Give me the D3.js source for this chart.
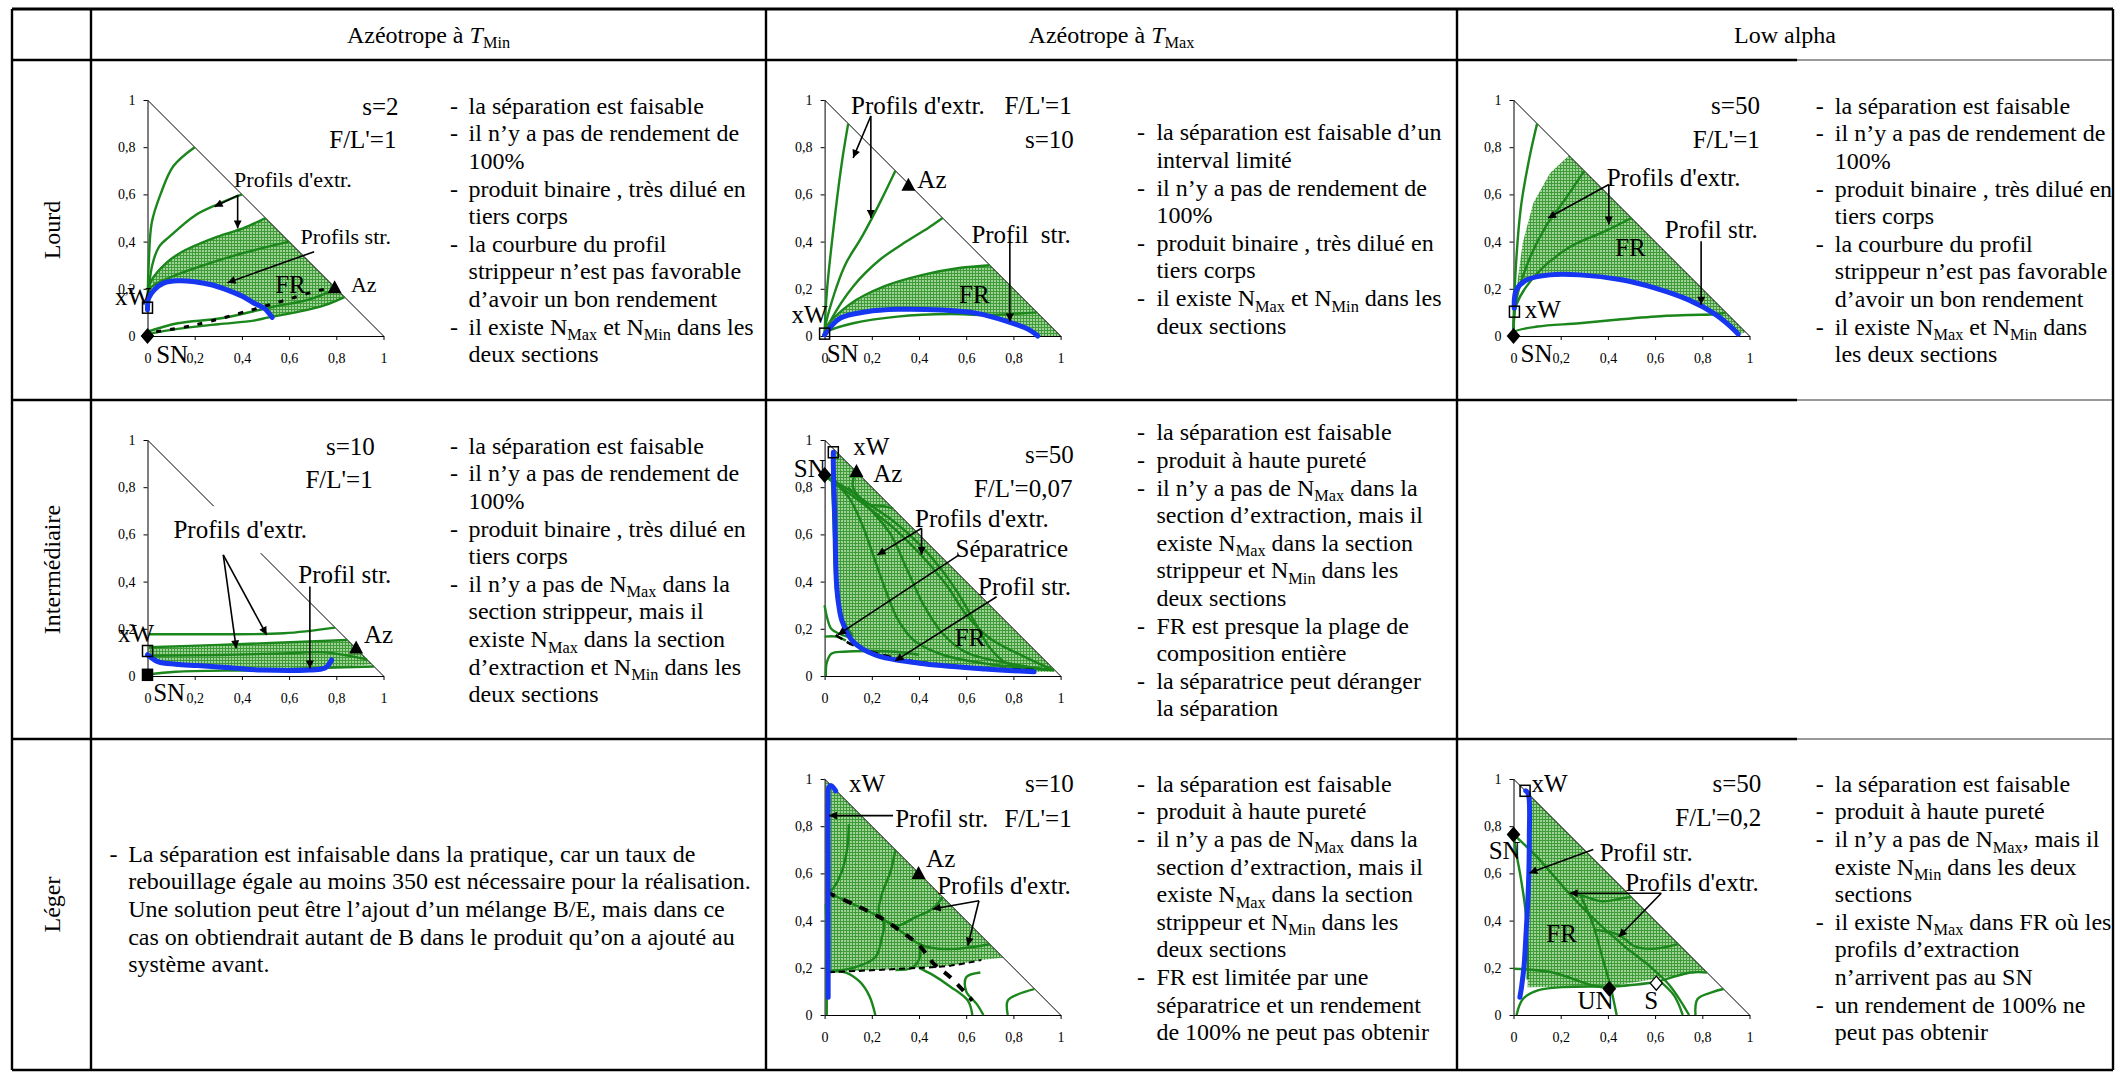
<!DOCTYPE html>
<html><head><meta charset="utf-8">
<script src="https://cdn.jsdelivr.net/npm/d3@7"></script>
<style>body{margin:0;background:#fff}svg{display:block}text{font-family:"Liberation Serif","Times New Roman",serif;fill:#000}</style>
</head><body><svg id="c" width="2116" height="1073"></svg>
<script>
// ---------------- DATA ----------------
const columnHeaders = ["Azéotrope à *T*_{Min}", "Azéotrope à *T*_{Max}", "Low alpha"];
const rowHeaders = ["Lourd", "Intermédiaire", "Léger"];
const tickValues = [0, 0.2, 0.4, 0.6, 0.8, 1];
const tickLabels = ["0", "0,2", "0,4", "0,6", "0,8", "1"];
const hypotenuse = [[0, 1], [1, 0]];

// Lourd / T_Min
const p11Green = [
  [[0,0.13],[0.005,0.3],[0.018,0.48],[0.055,0.6],[0.11,0.72],[0.2,0.8]],
  [[0,0.14],[0.02,0.3],[0.05,0.38],[0.092,0.42],[0.2,0.51],[0.29,0.555],[0.4,0.6]],
  [[0,0.16],[0.018,0.237],[0.08,0.31],[0.147,0.357],[0.294,0.42],[0.404,0.456],[0.5,0.5]],
  [[0,0.17],[0.018,0.209],[0.1,0.25],[0.22,0.294],[0.4,0.35],[0.6,0.4]],
  [[0,0.008],[0.128,0.03],[0.3,0.05],[0.45,0.065],[0.514,0.079],[0.642,0.103],[0.752,0.131],[0.835,0.165]],
  [[0,0.018],[0.128,0.054],[0.312,0.075],[0.532,0.124],[0.679,0.153],[0.8,0.2]]
];
const p11Blue = [[0,0.11],[0.005,0.16],[0.028,0.195],[0.07,0.225],[0.128,0.234],[0.2,0.23],[0.275,0.216],[0.35,0.19],[0.404,0.167],[0.45,0.14],[0.495,0.117],[0.528,0.079]];
const p11Dash = [[[0.037,0.018],[0.202,0.047],[0.44,0.11],[0.587,0.153],[0.734,0.195],[0.793,0.202]]];
const p11FR = [[0.018,0.237],[0.08,0.31],[0.147,0.357],[0.294,0.42],[0.404,0.456],[0.5,0.5],[0.835,0.165],[0.752,0.131],[0.642,0.103],[0.514,0.079],[0.528,0.079],[0.495,0.117],[0.45,0.14],[0.404,0.167],[0.35,0.19],[0.275,0.216],[0.2,0.23],[0.128,0.234],[0.07,0.225],[0.028,0.195]];
const p11Marks = [["square",0,0.12],["diamond",0,0],["triangle",0.793,0.202]];
const p11Labels = [["s=2",1.064,0.972,"end",25],["F/L'=1",1.055,0.83,"end",25],["Profils d'extr.",0.367,0.661,"start",22],["Profils str.",0.648,0.421,"start",22],["FR",0.541,0.216,"start",25],["Az",0.862,0.216,"start",22],["xW",0.015,0.167,"end",25],["SN",0.037,-0.08,"start",25]];
const p11Arrows = [[[0.385,0.597],[0.284,0.548]],[[0.382,0.597],[0.382,0.456]],[[0.706,0.357],[0.339,0.226]]];

// Lourd / T_Max
const p12Green = [
  [[0,0.01],[0.009,0.181],[0.047,0.535],[0.075,0.748],[0.1,0.9]],
  [[0,0.01],[0.009,0.068],[0.084,0.295],[0.159,0.422],[0.234,0.564],[0.3,0.7]],
  [[0,0.01],[0.019,0.054],[0.121,0.21],[0.234,0.323],[0.346,0.4],[0.439,0.458],[0.5,0.5]],
  [[0,0.01],[0.009,0.04],[0.103,0.132],[0.252,0.21],[0.42,0.26],[0.57,0.288],[0.7,0.3]],
  [[0,0.01],[0.009,0.018],[0.121,0.054],[0.308,0.082],[0.533,0.093],[0.682,0.089],[0.9,0.1]]
];
const p12Blue = [[0,0.005],[0.065,0.075],[0.178,0.103],[0.308,0.113],[0.495,0.11],[0.645,0.096],[0.776,0.061],[0.869,0.025],[0.903,0]];
const p12Dash = [];
const p12FR = [[0.009,0.04],[0.103,0.132],[0.252,0.21],[0.42,0.26],[0.57,0.288],[0.7,0.3],[1,0],[0.903,0],[0.869,0.025],[0.776,0.061],[0.645,0.096],[0.495,0.11],[0.308,0.113],[0.178,0.103],[0.065,0.075],[0,0.005]];
const p12Marks = [["square",0,0.01],["triangle",0.355,0.637]];
const p12Labels = [["Profils d'extr.",0.112,0.975,"start",25],["F/L'=1",1.047,0.975,"end",25],["s=10",1.056,0.833,"end",25],["Az",0.393,0.663,"start",25],["Profil\u00A0 str.",0.622,0.429,"start",25],["FR",0.57,0.174,"start",25],["xW",0.013,0.089,"end",25],["SN",0.009,-0.074,"start",25]];
const p12Arrows = [[[0.196,0.932],[0.121,0.755]],[[0.196,0.932],[0.196,0.5]],[[0.785,0.401],[0.785,0.061]]];

// Lourd / Low alpha
const p13Green = [
  [[0,0.01],[0.004,0.181],[0.03,0.535],[0.066,0.748],[0.1,0.9]],
  [[0,0.02],[0.012,0.153],[0.066,0.323],[0.137,0.465],[0.208,0.564],[0.3,0.7]],
  [[0,0.02],[0.012,0.132],[0.101,0.266],[0.244,0.38],[0.386,0.443],[0.5,0.5]],
  [[0,0.005],[0.004,0.018],[0.101,0.04],[0.279,0.054],[0.457,0.071],[0.635,0.085],[0.742,0.089],[0.87,0.093],[0.9,0.1]]
];
const p13Blue = [[0.003,0.118],[0.012,0.195],[0.057,0.238],[0.155,0.259],[0.279,0.259],[0.457,0.238],[0.6,0.203],[0.742,0.153],[0.849,0.096],[0.92,0.04],[0.952,0.008]];
const p13Dash = [];
const p13FR = [[0.012,0.195],[0.039,0.394],[0.084,0.564],[0.155,0.691],[0.235,0.765],[0.985,0.015],[0.952,0.008],[0.92,0.04],[0.849,0.096],[0.742,0.153],[0.6,0.203],[0.457,0.238],[0.279,0.259],[0.155,0.259],[0.057,0.238]];
const p13Marks = [["square",0.004,0.103],["diamond",0,0]];
const p13Labels = [["s=50",1.044,0.975,"end",25],["F/L'=1",1.044,0.833,"end",25],["Profils d'extr.",0.395,0.67,"start",25],["Profil str.",0.641,0.45,"start",25],["FR",0.431,0.373,"start",25],["xW",0.048,0.11,"start",25],["SN",0.03,-0.074,"start",25]];
const p13Arrows = [[[0.404,0.642],[0.146,0.5]],[[0.404,0.642],[0.404,0.472]],[[0.795,0.401],[0.795,0.132]]];

// Intermédiaire / T_Min
const p21Green = [
  [[0.005,0.177],[0.303,0.177],[0.578,0.181],[0.795,0.205]],
  [[0.005,0.122],[0.303,0.132],[0.578,0.142],[0.847,0.153]],
  [[0.005,0.086],[0.303,0.089],[0.578,0.096],[0.75,0.1],[0.93,0.07]],
  [[0.005,0.007],[0.12,0.018],[0.486,0.025],[0.761,0.035],[0.96,0.04]]
];
const p21Blue = [[0,0.09],[0.046,0.06],[0.12,0.05],[0.211,0.044],[0.35,0.035],[0.486,0.025],[0.688,0.025],[0.74,0.03],[0.761,0.04],[0.78,0.068]];
const p21Dash = [];
const p21FR = [[0.005,0.122],[0.303,0.132],[0.578,0.142],[0.847,0.153],[0.95,0.05],[0.69,0.028],[0.49,0.028],[0.211,0.046],[0.046,0.063],[0.005,0.09]];
const p21Marks = [["square",0,0.106],["fsquare",0,0.005],["triangle",0.884,0.117]];
const p21Labels = [["s=10",0.963,0.972,"end",25],["F/L'=1",0.954,0.83,"end",25],["Profils d'extr.",0.11,0.619,"start",25,true],["Profil str.",0.639,0.428,"start",25],["Az",0.917,0.174,"start",25],["xW",0.028,0.181,"end",25],["SN",0.024,-0.073,"start",25]];
const p21Arrows = [[[0.321,0.513],[0.376,0.117]],[[0.321,0.513],[0.505,0.174]],[[0.688,0.379],[0.688,0.032]]];

// Intermédiaire / T_Max
const p22Green = [
  [[0,0.852],[0.1,0.79],[0.2,0.72],[0.3,0.65],[0.4,0.56],[0.48,0.47],[0.56,0.36],[0.63,0.24],[0.7,0.12],[0.78,0.05],[0.97,0.025]],
  [[0.02,0.84],[0.1,0.76],[0.16,0.64],[0.21,0.5],[0.26,0.36],[0.31,0.24],[0.38,0.15],[0.5,0.09],[0.7,0.05],[0.97,0.025]],
  [[0.13,0.86],[0.12,0.8],[0.2,0.7],[0.28,0.6],[0.35,0.45],[0.42,0.3],[0.5,0.18],[0.6,0.1],[0.8,0.05],[0.97,0.025]],
  [[0.01,0.84],[0.15,0.74],[0.3,0.62],[0.42,0.5],[0.52,0.38],[0.6,0.26],[0.7,0.16],[0.85,0.08],[0.97,0.025]],
  [[0.1,0.8],[0.18,0.73],[0.25,0.72],[0.29,0.71]],
  [[0.03,0.85],[0.04,0.6],[0.05,0.35],[0.07,0.25],[0.12,0.17]],
  [[0,0.3],[0.01,0.25],[0.028,0.2],[0.06,0.18],[0.1,0.165]],
  [[0,0.167],[0.05,0.167],[0.09,0.15]],
  [[0.005,0],[0.01,0.06],[0.03,0.095],[0.08,0.103],[0.3,0.103],[0.4,0.09]]
];
const p22Blue = [[0.037,0.948],[0.037,0.894],[0.043,0.682],[0.05,0.4],[0.06,0.3],[0.075,0.23],[0.121,0.145],[0.215,0.089],[0.402,0.054],[0.682,0.03],[0.888,0.018]];
const p22Dash = [[[0.047,0.174],[0.121,0.131],[0.308,0.075],[0.589,0.04],[0.888,0.025]]];
const p22FR = [[0.037,0.963],[0.975,0.025],[0.975,0.018],[0.888,0.018],[0.682,0.03],[0.402,0.054],[0.215,0.089],[0.121,0.145],[0.075,0.23],[0.06,0.3],[0.05,0.4],[0.043,0.682],[0.037,0.894]];
const p22Marks = [["square",0.037,0.948],["diamond",0,0.852],["triangle",0.135,0.864]];
const p22Labels = [["xW",0.121,0.972,"start",25],["SN",0.005,0.88,"end",25],["Az",0.206,0.859,"start",25],["s=50",1.056,0.939,"end",25],["F/L'=0,07",1.05,0.795,"end",25],["Profils d'extr.",0.383,0.668,"start",25],["Séparatrice",0.555,0.541,"start",25],["Profil str.",0.65,0.379,"start",25],["FR",0.551,0.16,"start",25]];
const p22Arrows = [[[0.411,0.626],[0.224,0.513]],[[0.411,0.626],[0.411,0.513]],[[0.57,0.513],[0.056,0.174]],[[0.729,0.336],[0.299,0.064]]];

// Léger / T_Max
const p32Green = [
  [[0.009,0.52],[0.121,0.47],[0.234,0.414],[0.33,0.35],[0.402,0.3],[0.45,0.285],[0.55,0.28],[0.7,0.3]],
  [[0.103,0.808],[0.095,0.7],[0.07,0.6],[0.03,0.53],[0.009,0.52]],
  [[0.3,0.7],[0.28,0.61],[0.243,0.513],[0.23,0.44],[0.252,0.386],[0.243,0.33],[0.215,0.245],[0.121,0.2],[0.019,0.185]],
  [[0.5,0.5],[0.458,0.45],[0.383,0.414],[0.308,0.379],[0.234,0.414]],
  [[0.402,0.3],[0.402,0.24],[0.37,0.2],[0.3,0.19]],
  [[0.019,0.185],[0.09,0.18],[0.15,0.14],[0.19,0.08],[0.215,0]],
  [[0.4,0.2],[0.458,0.17],[0.533,0.12],[0.607,0.061],[0.626,0]],
  [[0.66,0.18],[0.6,0.16],[0.6,0.1],[0.645,0.046],[0.673,0]],
  [[0.776,0],[0.776,0.061],[0.822,0.089],[0.888,0.11]],
  [[0.005,0.47],[0.009,0.33],[0.009,0]]
];
const p32Blue = [[0.015,0.075],[0.015,0.3],[0.015,0.6],[0.015,0.9],[0.018,0.965],[0.028,0.972],[0.047,0.95]];
const p32Dash = [[[0.009,0.52],[0.121,0.47],[0.234,0.414],[0.33,0.35],[0.402,0.294],[0.46,0.22],[0.533,0.16],[0.626,0.061]],[[0.019,0.181],[0.308,0.195],[0.533,0.209],[0.664,0.233]]];
const p32FR = [[0.005,0.995],[0.757,0.243],[0.664,0.233],[0.533,0.209],[0.308,0.195],[0.019,0.181],[0.005,0.181]];
const p32Marks = [["triangle",0.398,0.597]];
const p32Labels = [["xW",0.103,0.979,"start",25],["s=10",1.056,0.979,"end",25],["Profil str.",0.299,0.83,"start",25],["F/L'=1",1.047,0.83,"end",25],["Az",0.43,0.661,"start",25],["Profils d'extr.",0.477,0.548,"start",25]];
const p32Arrows = [[[0.29,0.845],[0.019,0.845]],[[0.654,0.484],[0.458,0.449]],[[0.654,0.484],[0.607,0.294]]];

// Léger / Low alpha
const p33Green = [
  [[0,0.765],[0.103,0.666],[0.229,0.523],[0.338,0.41],[0.464,0.296],[0.572,0.211],[0.662,0.125],[0.744,0]],
  [[0,0.765],[0.013,0.68],[0.031,0.58],[0.05,0.45],[0.06,0.3],[0.06,0.15]],
  [[0.247,0.52],[0.283,0.509],[0.374,0.482],[0.464,0.495],[0.5,0.5]],
  [[0.35,0.36],[0.446,0.339],[0.518,0.289],[0.608,0.282],[0.699,0.301]],
  [[0.283,0.509],[0.338,0.381],[0.374,0.253],[0.41,0.125],[0.437,0]],
  [[0,0.196],[0.157,0.182],[0.338,0.125],[0.41,0.114]],
  [[0.013,0],[0.04,0.068],[0.103,0.104],[0.211,0.118],[0.41,0.12]],
  [[0.608,0.154],[0.68,0.083],[0.717,0]],
  [[0.771,0],[0.78,0.068],[0.843,0.097],[0.89,0.11]],
  [[0.41,0.12],[0.6,0.14],[0.75,0.18],[0.82,0.18]]
];
const p33Blue = [[0.052,0.95],[0.063,0.936],[0.067,0.751],[0.063,0.538],[0.052,0.324],[0.045,0.211],[0.034,0.118],[0.027,0.075]];
const p33Dash = [];
const p33FR = [[0.065,0.935],[0.816,0.184],[0.72,0.17],[0.608,0.154],[0.41,0.122],[0.06,0.118],[0.063,0.4],[0.067,0.75]];
const p33Marks = [["square",0.049,0.95],["diamond",0,0.765],["diamond",0.406,0.111],["odiamond",0.605,0.135]];
const p33Labels = [["xW",0.076,0.979,"start",25],["s=50",1.05,0.979,"end",25],["F/L'=0,2",1.05,0.836,"end",25],["SN",-0.105,0.694,"start",25],["Profil str.",0.365,0.687,"start",25],["Profils d'extr.",0.473,0.559,"start",25],["FR",0.139,0.346,"start",25],["UN",0.271,0.061,"start",25],["S",0.554,0.061,"start",25]];
const p33Arrows = [[[0.338,0.701],[0.067,0.602]],[[0.626,0.516],[0.238,0.516]],[[0.626,0.516],[0.446,0.331]]];

// cell texts
const text11 = [["la séparation est faisable"],["il n’y a pas de rendement de","100%"],["produit binaire , très dilué en","tiers corps"],["la courbure du profil","strippeur n’est pas favorable","d’avoir un bon rendement"],["il existe N_{Max} et N_{Min} dans les","deux sections"]];
const text12 = [["la séparation est faisable d’un","interval limité"],["il n’y a pas de rendement de","100%"],["produit binaire , très dilué en","tiers corps"],["il existe N_{Max} et N_{Min} dans les","deux sections"]];
const text13 = [["la séparation est faisable"],["il n’y a pas de rendement de","100%"],["produit binaire , très dilué en","tiers corps"],["la courbure du profil","strippeur n’est pas favorable","d’avoir un bon rendement"],["il existe N_{Max} et N_{Min} dans","les deux sections"]];
const text21 = [["la séparation est faisable"],["il n’y a pas de rendement de","100%"],["produit binaire , très dilué en","tiers corps"],["il n’y a pas de N_{Max} dans la","section strippeur, mais il","existe N_{Max} dans la section","d’extraction et N_{Min} dans les","deux sections"]];
const text22 = [["la séparation est faisable"],["produit à haute pureté"],["il n’y a pas de N_{Max} dans la","section d’extraction, mais il","existe N_{Max} dans la section","strippeur et N_{Min} dans les","deux sections"],["FR est presque la plage de","composition entière"],["la séparatrice peut déranger","la séparation"]];
const text31 = [["La séparation est infaisable dans la pratique, car un taux de","rebouillage égale au moins 350 est nécessaire pour la réalisation.","Une solution peut être l’ajout d’un mélange B/E, mais dans ce","cas on obtiendrait autant de B dans le produit qu’on a ajouté au","système avant."]];
const text32 = [["la séparation est faisable"],["produit à haute pureté"],["il n’y a pas de N_{Max} dans la","section d’extraction, mais il","existe N_{Max} dans la section","strippeur et N_{Min} dans les","deux sections"],["FR est limitée par une","séparatrice et un rendement","de 100% ne peut pas obtenir"]];
const text33 = [["la séparation est faisable"],["produit à haute pureté"],["il n’y a pas de N_{Max}, mais il","existe N_{Min} dans les deux","sections"],["il existe N_{Max} dans FR où les","profils d’extraction","n’arrivent pas au SN"],["un rendement de 100% ne","peut pas obtenir"]];

// ---------------- LAYOUT ----------------
const W = 2116, H = 1073, PS = 236;
const tL = 12, tR = 2113, tT = 9, hB = 60, rowB = [400, 739, 1070], colX = [91, 766, 1457], grayFrom = 1797;
const GREEN = "#1b861b", BLUE = "#1636f2";

const svg = d3.select("#c");
svg.append("rect").attr("width", W).attr("height", H).attr("fill", "#fff");
const defs = svg.append("defs");
const pat = defs.append("pattern").attr("id", "frgrid").attr("width", 3).attr("height", 3).attr("patternUnits", "userSpaceOnUse");
pat.append("rect").attr("width", 3).attr("height", 3).attr("fill", "#9fd296");
pat.append("path").attr("d", "M0,0.5H3M0.5,0V3").attr("stroke", "#3f9a38").attr("stroke-width", 1);
defs.append("marker").attr("id", "arr").attr("viewBox", "0 0 10 10").attr("refX", 10).attr("refY", 5)
  .attr("markerWidth", 11).attr("markerHeight", 8).attr("markerUnits", "userSpaceOnUse").attr("orient", "auto")
  .append("path").attr("d", "M0,0L10,5L0,10z").attr("fill", "#000");

function rich(sel, str, size) {
  const re = /(\*[^*]+\*)|(_\{[^}]*\})/g;
  let last = 0, m, back = 0;
  const plain = s => { const t = sel.append("tspan").text(s); if (back) { t.attr("dy", -back); back = 0; } return t; };
  while ((m = re.exec(str))) {
    if (m.index > last) plain(str.slice(last, m.index));
    if (m[1]) { plain(m[1].slice(1, -1)).attr("font-style", "italic"); }
    else { const sh = size * 0.24; sel.append("tspan").attr("font-size", size * 0.68).attr("dy", sh - back).text(m[2].slice(2, -1)); back = sh; }
    last = re.lastIndex;
  }
  if (last < str.length) plain(str.slice(last));
}

// table lines
const tg = svg.append("g").attr("stroke", "#000").attr("fill", "none");
tg.append("line").attr("x1", tL).attr("x2", tR).attr("y1", tT).attr("y2", tT).attr("stroke-width", 3);
[hB, rowB[0], rowB[1]].forEach(yv => {
  tg.append("line").attr("x1", tL).attr("x2", grayFrom).attr("y1", yv).attr("y2", yv).attr("stroke-width", 2.6);
  tg.append("line").attr("x1", grayFrom).attr("x2", tR).attr("y1", yv).attr("y2", yv).attr("stroke-width", 1.6).attr("stroke", "#777");
});
tg.append("line").attr("x1", tL).attr("x2", tR).attr("y1", rowB[2]).attr("y2", rowB[2]).attr("stroke-width", 2.6);
[tL, tR].concat(colX).forEach(xv => tg.append("line").attr("x1", xv).attr("x2", xv).attr("y1", tT).attr("y2", rowB[2]).attr("stroke-width", 2.4));

// headers
const headCenters = [(colX[0] + colX[1]) / 2, (colX[1] + colX[2]) / 2, (colX[2] + tR) / 2];
columnHeaders.forEach((h, i) => {
  const t = svg.append("text").attr("x", headCenters[i]).attr("y", (tT + hB) / 2 + 8).attr("text-anchor", "middle").attr("font-size", 24);
  rich(t, h, 24);
});
const rowTops = [hB, rowB[0], rowB[1]];
rowHeaders.forEach((h, i) => {
  const cy = (rowTops[i] + rowB[i]) / 2, cx = (tL + colX[0]) / 2 + 8;
  svg.append("text").attr("transform", `translate(${cx},${cy}) rotate(-90)`).attr("text-anchor", "middle").attr("font-size", 24).text(h);
});

// cell texts
const LH = 27.6;
function drawCellText(data, dashX, textX, firstCenter) {
  let k = 0;
  data.forEach(bullet => {
    bullet.forEach((ln, j) => {
      const yb = firstCenter + k * LH + 7;
      if (j === 0) svg.append("text").attr("x", dashX).attr("y", yb).attr("font-size", 24).text("-");
      const t = svg.append("text").attr("x", textX).attr("y", yb).attr("font-size", 24);
      rich(t, ln, 24);
      k++;
    });
  });
}
drawCellText(text11, 450, 468.6, 106.7);
drawCellText(text12, 1137, 1156.4, 133.3);
drawCellText(text13, 1815.8, 1834.8, 106.7);
drawCellText(text21, 450, 468.6, 446.7);
drawCellText(text22, 1137, 1156.4, 433.3);
drawCellText(text31, 109.5, 128.2, 854.7);
drawCellText(text32, 1137, 1156.4, 784.7);
drawCellText(text33, 1815.8, 1834.8, 784.7);

// plots
function drawPlot(ox, oy, green, blue, dash, fr, marks, labels, arrows, dashStyle) {
  const g = svg.append("g");
  const x = d3.scaleLinear().domain([0, 1]).range([ox, ox + PS]);
  const y = d3.scaleLinear().domain([0, 1]).range([oy, oy - PS]);
  const smooth = d3.line().x(d => x(d[0])).y(d => y(d[1])).curve(d3.curveCatmullRom.alpha(0.5));
  const straight = d3.line().x(d => x(d[0])).y(d => y(d[1]));
  g.append("path").attr("d", straight(fr) + "Z").attr("fill", "url(#frgrid)");
  const xa = g.append("g").attr("transform", `translate(0,${oy})`)
    .call(d3.axisBottom(x).tickValues(tickValues).tickFormat((d, i) => tickLabels[i]).tickSize(4).tickSizeOuter(0).tickPadding(13));
  const ya = g.append("g").attr("transform", `translate(${ox},0)`)
    .call(d3.axisLeft(y).tickValues(tickValues).tickFormat((d, i) => tickLabels[i]).tickSize(4).tickSizeOuter(0).tickPadding(8));
  [xa, ya].forEach(a => {
    a.selectAll("text").attr("font-size", 14).attr("font-family", "Liberation Serif, serif").attr("fill", "#000");
    a.selectAll("line,path").attr("stroke", "#000").attr("stroke-width", 1);
  });
  g.append("path").attr("d", straight(hypotenuse)).attr("stroke", "#000").attr("stroke-width", 1).attr("fill", "none");
  green.forEach(c => g.append("path").attr("d", smooth(c)).attr("stroke", GREEN).attr("stroke-width", 2.4).attr("fill", "none"));
  dash.forEach((c, i) => g.append("path").attr("d", smooth(c)).attr("stroke", "#000").attr("fill", "none")
    .attr("stroke-width", dashStyle[i] ? dashStyle[i][0] : 2.5).attr("stroke-dasharray", dashStyle[i] ? dashStyle[i][1] : "7,5"));
  g.append("path").attr("d", smooth(blue)).attr("stroke", BLUE).attr("stroke-width", 5).attr("stroke-linecap", "round").attr("fill", "none");
  marks.forEach(([type, mx, my]) => {
    const px = x(mx), py = y(my);
    if (type === "square" || type === "fsquare") g.append("rect").attr("x", px - 5).attr("y", py - 5.5).attr("width", 10).attr("height", 11)
      .attr("fill", type === "square" ? "#fff" : "#000").attr("fill-opacity", type === "square" ? 0 : 1).attr("stroke", "#000").attr("stroke-width", 1.5);
    else if (type === "diamond" || type === "odiamond") g.append("path").attr("d", `M${px},${py - 7}L${px + 6},${py}L${px},${py + 7}L${px - 6},${py}Z`)
      .attr("fill", type === "diamond" ? "#000" : "#fff").attr("stroke", "#000").attr("stroke-width", 1.3);
    else g.append("path").attr("d", `M${px},${py - 8}L${px + 7},${py + 5}L${px - 7},${py + 5}Z`).attr("fill", "#000");
  });
  arrows.forEach(([a, b]) => g.append("line").attr("x1", x(a[0])).attr("y1", y(a[1])).attr("x2", x(b[0])).attr("y2", y(b[1]))
    .attr("stroke", "#000").attr("stroke-width", 1.6).attr("marker-end", "url(#arr)"));
  labels.forEach(([txt, lx, ly, anchor, size, bg]) => {
    const t = g.append("text").attr("x", x(lx)).attr("y", y(ly) + size * 0.33).attr("text-anchor", anchor).attr("font-size", size).text(txt);
    if (bg) { const b = t.node().getBBox(); g.insert("rect", () => t.node()).attr("x", b.x - 4).attr("y", b.y - 10).attr("width", b.width + 8).attr("height", b.height + 20).attr("fill", "#fff"); }
  });
}
const C1 = 147.5, C2 = 824.6, C3 = 1513.5, R1 = 336, R2 = 676, R3 = 1015;
drawPlot(C1, R1, p11Green, p11Blue, p11Dash, p11FR, p11Marks, p11Labels, p11Arrows, [[3, "5,9"]]);
drawPlot(C2, R1, p12Green, p12Blue, p12Dash, p12FR, p12Marks, p12Labels, p12Arrows, []);
drawPlot(C3, R1, p13Green, p13Blue, p13Dash, p13FR, p13Marks, p13Labels, p13Arrows, []);
drawPlot(C1, R2, p21Green, p21Blue, p21Dash, p21FR, p21Marks, p21Labels, p21Arrows, []);
drawPlot(C2, R2, p22Green, p22Blue, p22Dash, p22FR, p22Marks, p22Labels, p22Arrows, [[2.5, "8,5"]]);
drawPlot(C2, R3, p32Green, p32Blue, p32Dash, p32FR, p32Marks, p32Labels, p32Arrows, [[4, "9,9"], [2, "6,4"]]);
drawPlot(C3, R3, p33Green, p33Blue, p33Dash, p33FR, p33Marks, p33Labels, p33Arrows, []);
</script></body></html>
